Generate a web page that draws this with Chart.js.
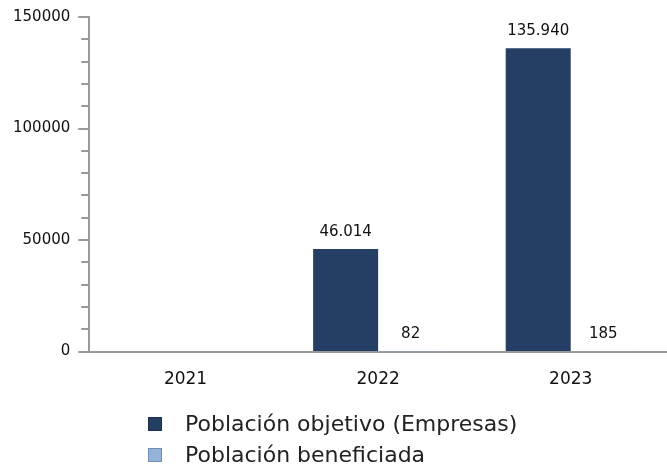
<!DOCTYPE html>
<html><head><meta charset="utf-8">
<script src="https://cdn.jsdelivr.net/npm/chart.js@4/dist/chart.umd.min.js"></script>
<style>
html,body{margin:0;padding:0;background:#fff;}
#wrap{position:relative;width:667px;height:470px;}
#legend{position:absolute;left:148px;top:408px;font-family:"DejaVu Sans",sans-serif;font-size:22px;color:#222;}
#legend .it{display:flex;align-items:center;height:31px;}
#legend .bx{width:14px;height:14px;margin-right:23px;box-sizing:border-box;}
</style></head>
<body><div id="wrap"><canvas id="c" width="667" height="470"></canvas><div id="legend"></div></div>
<script>
const categories = ["2021", "2022", "2023"];
const poblacionObjetivo = [null, 46014, 135940];
const poblacionBeneficiada = [null, 82, 185];
const seriesNames = ["Población objetivo (Empresas)", "Población beneficiada"];
const yMajorTicks = [0, 50000, 100000, 150000];
const colors = ["#243F63", "#95B3D7"];
const borders = ["#1b2f4a", "#6f8fb8"];

const fmt = v => v.toLocaleString('de-DE');

const labelPlugin = {
  id: 'vals',
  afterDatasetsDraw(chart) {
    const ctx = chart.ctx;
    ctx.save();
    ctx.font = '15px "DejaVu Sans"';
    ctx.fillStyle = '#111';
    ctx.textAlign = 'center';
    ctx.textBaseline = 'middle';
    chart.data.datasets.forEach((ds, i) => {
      chart.getDatasetMeta(i).data.forEach((el, j) => {
        const v = ds.data[j];
        if (v == null) return;
        ctx.fillText(fmt(v), el.x, el.y - 17);
      });
    });
    // y axis ticks (major & minor)
    const y = chart.scales.y;
    ctx.strokeStyle = '#999';
    ctx.lineWidth = 2;
    for (let v = 0; v <= 150000; v += 10000) {
      const py = Math.round(y.getPixelForValue(v));
      const len = (v % 50000 === 0) ? 11 : 8;
      ctx.beginPath();
      ctx.moveTo(y.right - len, py);
      ctx.lineTo(y.right, py);
      ctx.stroke();
    }
    ctx.restore();
  }
};

const chart = new Chart(document.getElementById('c'), {
  type: 'bar',
  data: {
    labels: categories,
    datasets: [
      { label: seriesNames[0], data: poblacionObjetivo, backgroundColor: colors[0], borderColor: borders[0], borderWidth: 0 },
      { label: seriesNames[1], data: poblacionBeneficiada, backgroundColor: colors[1], borderColor: borders[1], borderWidth: 0 }
    ]
  },
  options: {
    responsive: false,
    animation: false,
    layout: { padding: { top: 15, right: 0, left: 5, bottom: 70 } },
    plugins: { legend: { display: false }, tooltip: { enabled: false } },
    datasets: { bar: { categoryPercentage: 0.675, barPercentage: 1 } },
    scales: {
      x: {
        grid: { display: false },
        border: { color: '#999', width: 2 },
        ticks: { font: { family: 'DejaVu Sans', size: 17 }, color: '#111', padding: 10 }
      },
      y: {
        min: 0, max: 150000,
        afterBuildTicks(scale) { scale.ticks = yMajorTicks.map(v => ({ value: v })); },
        grid: { display: true, drawOnChartArea: false, drawTicks: true, tickLength: 11, tickColor: 'rgba(0,0,0,0)' },
        border: { color: '#999', width: 2 },
        ticks: { font: { family: 'DejaVu Sans', size: 15 }, color: '#111', padding: 8, callback: v => String(v) }
      }
    }
  },
  plugins: [labelPlugin]
});

const lg = document.getElementById('legend');
chart.data.datasets.forEach((ds, i) => {
  const it = document.createElement('div'); it.className = 'it';
  const bx = document.createElement('div'); bx.className = 'bx';
  bx.style.background = colors[i]; bx.style.border = '1px solid ' + borders[i];
  const t = document.createElement('span'); t.textContent = ds.label;
  it.appendChild(bx); it.appendChild(t); lg.appendChild(it);
});
</script></body></html>
